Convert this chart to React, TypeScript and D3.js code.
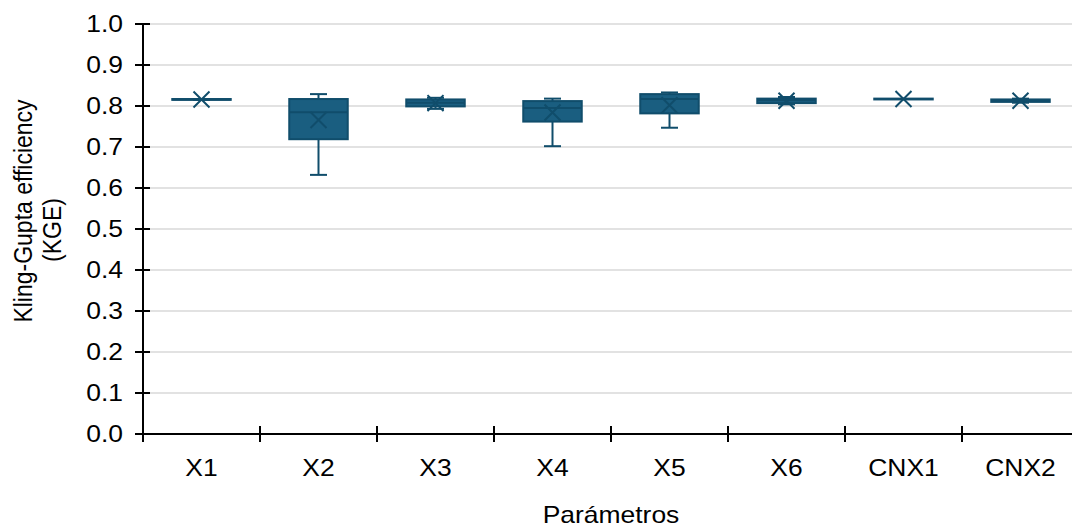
import React from "react";
import * as d3 from "d3";

const categories = ["X1", "X2", "X3", "X4", "X5", "X6", "CNX1", "CNX2"];
const minVals = [0.815, 0.632, 0.793, 0.702, 0.747, 0.804, 0.817, 0.808];
const q1Vals = [0.815, 0.719, 0.799, 0.762, 0.782, 0.807, 0.816, 0.810];
const medianVals = [0.816, 0.785, 0.808, 0.795, 0.817, 0.814, 0.817, 0.813];
const q3Vals = [0.817, 0.817, 0.816, 0.812, 0.829, 0.818, 0.818, 0.816];
const maxVals = [0.817, 0.829, 0.820, 0.818, 0.833, 0.822, 0.817, 0.818];
const meanVals = [0.816, 0.766, 0.807, 0.784, 0.802, 0.813, 0.817, 0.813];
const yTicks = [0, 0.1, 0.2, 0.3, 0.4, 0.5, 0.6, 0.7, 0.8, 0.9, 1.0];

const W = 1072;
const H = 529;
const left = 143;
const right = 1079;
const top = 24;
const bottom = 434;
const FILL = "#1a5e80";
const STROKE = "#104d6b";
const FONT = "'Liberation Sans', Arial, sans-serif";
const FS = 23;
const SX = 1.15;

export default function App() {
  const x = d3.scaleBand<string>().domain(categories).range([left, right]).padding(0);
  const y = d3.scaleLinear().domain([0, 1]).range([bottom, top]);
  const bw = x.bandwidth();
  const boxW = bw * 0.5;
  const capW = 17;
  const m = 8;

  const tickPositions = categories.map((c) => x(c) as number).concat([right]);

  return (
    <svg width={W} height={H} style={{ position: "absolute", left: 0, top: 0 }} fontFamily={FONT}>
      <rect x={0} y={0} width={W} height={H} fill="#fff" />
      {yTicks.slice(1).map((t) => (
        <line key={"g" + t} x1={left} x2={right} y1={y(t)} y2={y(t)} stroke="#d9d9d9" strokeWidth={1.5} />
      ))}
      {categories.map((c, i) => {
        const cx = (x(c) as number) + bw / 2;
        const yq1 = y(q1Vals[i]);
        const yq3 = y(q3Vals[i]);
        const ymed = y(medianVals[i]);
        const ymean = y(meanVals[i]);
        return (
          <g key={c}>
            <line x1={cx} x2={cx} y1={y(maxVals[i])} y2={yq3} stroke={STROKE} strokeWidth={2} />
            <line x1={cx} x2={cx} y1={yq1} y2={y(minVals[i])} stroke={STROKE} strokeWidth={2} />
            <line x1={cx - capW / 2} x2={cx + capW / 2} y1={y(maxVals[i])} y2={y(maxVals[i])} stroke={STROKE} strokeWidth={2} />
            <line x1={cx - capW / 2} x2={cx + capW / 2} y1={y(minVals[i])} y2={y(minVals[i])} stroke={STROKE} strokeWidth={2} />
            <rect x={cx - boxW / 2} y={yq3} width={boxW} height={Math.max(0.5, yq1 - yq3)} fill={FILL} stroke={STROKE} strokeWidth={2} />
            <line x1={cx - boxW / 2} x2={cx + boxW / 2} y1={ymed} y2={ymed} stroke={STROKE} strokeWidth={2} />
            <path d={`M${cx - m},${ymean - m}L${cx + m},${ymean + m}M${cx - m},${ymean + m}L${cx + m},${ymean - m}`} stroke={STROKE} strokeWidth={2} fill="none" />
          </g>
        );
      })}
      {/* axes */}
      <line x1={left} x2={left} y1={top} y2={bottom} stroke="#000" strokeWidth={2} />
      <line x1={left} x2={right} y1={bottom} y2={bottom} stroke="#000" strokeWidth={2} />
      {yTicks.map((t) => (
        <g key={"t" + t}>
          <line x1={left - 8} x2={left + 7} y1={y(t)} y2={y(t)} stroke="#000" strokeWidth={2} />
          <text transform={`translate(${left - 20},${y(t)}) scale(${SX},1)`} dy="0.35em" textAnchor="end" fontSize={FS} fill="#000">
            {d3.format(".1f")(t)}
          </text>
        </g>
      ))}
      {tickPositions.map((p, i) => (
        <line key={"xt" + i} x1={p} x2={p} y1={bottom - 8} y2={bottom + 8} stroke="#000" strokeWidth={2} />
      ))}
      {categories.map((c) => (
        <text key={"xl" + c} transform={`translate(${(x(c) as number) + bw / 2},476) scale(${SX},1)`} textAnchor="middle" fontSize={FS} fill="#000">
          {c}
        </text>
      ))}
      <text transform={`translate(611,523) scale(${SX},1)`} textAnchor="middle" fontSize={FS} fill="#000">Parámetros</text>
      <text transform={`translate(32,211) rotate(-90) scale(1,${SX})`} textAnchor="middle" fontSize={FS} fill="#000">Kling-Gupta efficiency</text>
      <text transform={`translate(61,230) rotate(-90) scale(1,${SX})`} textAnchor="middle" fontSize={FS} fill="#000">(KGE)</text>
    </svg>
  );
}
